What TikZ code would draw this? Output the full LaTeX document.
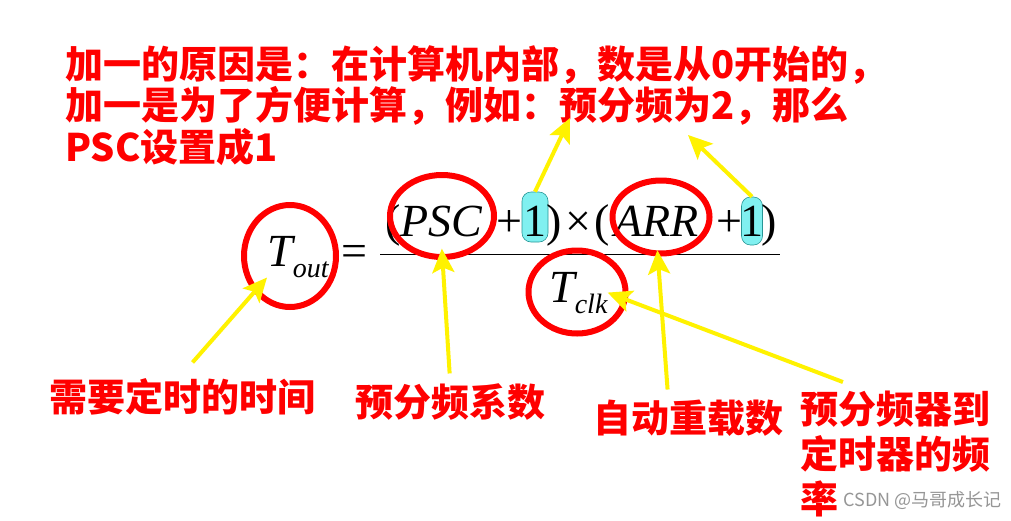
\documentclass[tikz,border=0pt]{standalone}
\usepackage{fontspec}
\setmainfont{Liberation Serif}
\newfontfamily\cjk{Noto Sans CJK SC}
\usetikzlibrary{arrows.meta, shapes.geometric}
\definecolor{hlcyan}{RGB}{128,240,240}
\definecolor{hledge}{RGB}{40,150,150}
\definecolor{wmgray}{RGB}{150,150,150}
\newcommand\lowsub[1]{\raisebox{-11pt}{\fontsize{28}{28}\selectfont\itshape #1}}

\begin{document}
\begin{tikzpicture}[
  x=1pt, y=-1pt,
  note/.style={text=red, font=\cjk\bfseries\fontsize{38}{45}\selectfont, inner sep=4pt},
  arrow/.style={line width=4pt, yellow, -{Stealth[length=24pt,width=22pt,inset=5pt]}},
  hl/.style={draw=hledge, fill=hlcyan, rounded corners=9pt, line width=0.6pt, inner sep=0pt},
  sym/.style={anchor=base west, inner sep=0pt, font=\fontsize{46}{46}\selectfont}
]
\tikzstyle{ring}=[draw=red,line width=6pt,ellipse,inner sep=0pt]
\fill[white] (0,0) rectangle (1011,520);
\useasboundingbox (0,0) rectangle (1011,520);

% Note on top
\node[note, align=left, anchor=north west, font=\cjk\bfseries\fontsize{38}{41.5}\selectfont] (why) at (61,41)
  {加一的原因是：在计算机内部，数是从0开始的，\\加一是为了方便计算，例如：预分频为2，那么\\PSC设置成1};

% Formula
\node[hl, minimum width=26pt, minimum height=50pt] (one1) at (535,217) {};
\node[hl, minimum width=21pt, minimum height=48pt] (one2) at (752,221) {};
\node[sym] (touttxt) at (267,266) {\itshape T\lowsub{out}};
\node[sym] (eq) at (341,266) {=};
\node[sym] (lpa1) at (385,236) {(};
\node[sym] (psctxt) at (400,236) {\itshape PSC};
\node[sym] (plus1) at (496,236) {+};
\node[sym] (n1) at (523.5,236) {1};
\node[sym] (rpa1) at (546,236) {)};
\node[sym] (times) at (565,236) {×};
\node[sym] (lpa2) at (594,236) {(};
\node[sym] (arrtxt) at (614,236) {\itshape ARR};
\node[sym] (plus2) at (716,236) {+};
\node[sym] (n2) at (740.5,236) {1};
\node[sym] (rpa2) at (761,236) {)};
\draw[line width=1.4pt] (380,254.5) -- (780,254.5);
\node[sym] (tclktxt) at (549,302) {\itshape T\lowsub{clk}};

% Circles
\node[ring, minimum width=92pt, minimum height=102pt] (tout) at (290,256) {};
\node[ring, minimum width=104pt, minimum height=82pt] (psc) at (442,216) {};
\node[ring, minimum width=97pt, minimum height=73pt] (arr) at (661,217) {};
\node[ring, minimum width=97pt, minimum height=83pt] (tclk) at (577,292) {};

% Labels
\node[note] (lbltime) at (182,397) {需要定时的时间};
\node[note] (lblpsc) at (450,402) {预分频系数};
\node[note] (lblarr) at (688,418) {自动重载数};
\node[note, align=left, anchor=north west] (lblclk) at (796,387) {预分频器到\\定时器的频\\率};
\node[text=wmgray, font=\cjk\fontsize{18}{18}\selectfont, inner sep=0pt, anchor=east] (mark) at (1002,500) {CSDN @马哥成长记};

% Arrows
\coordinate (tip1) at (570,118);
\coordinate (tip2) at (688,135);
\draw[arrow] (one1.north) -- (tip1);
\draw[arrow] (one2.north) -- (tip2);
\draw[arrow, shorten <=16pt] (lbltime.north) -- (touttxt.south west);
\draw[arrow, shorten <=6pt, shorten >=12pt] (lblpsc.north) -- (psctxt.south);
\draw[arrow, shorten <=6pt, shorten >=14pt] ([xshift=-20pt]lblarr.north) -- (arrtxt.south);
\draw[arrow, shorten <=14pt] ([xshift=60pt]lblclk.north west) -- (tclktxt.east);

\end{tikzpicture}
\end{document}
